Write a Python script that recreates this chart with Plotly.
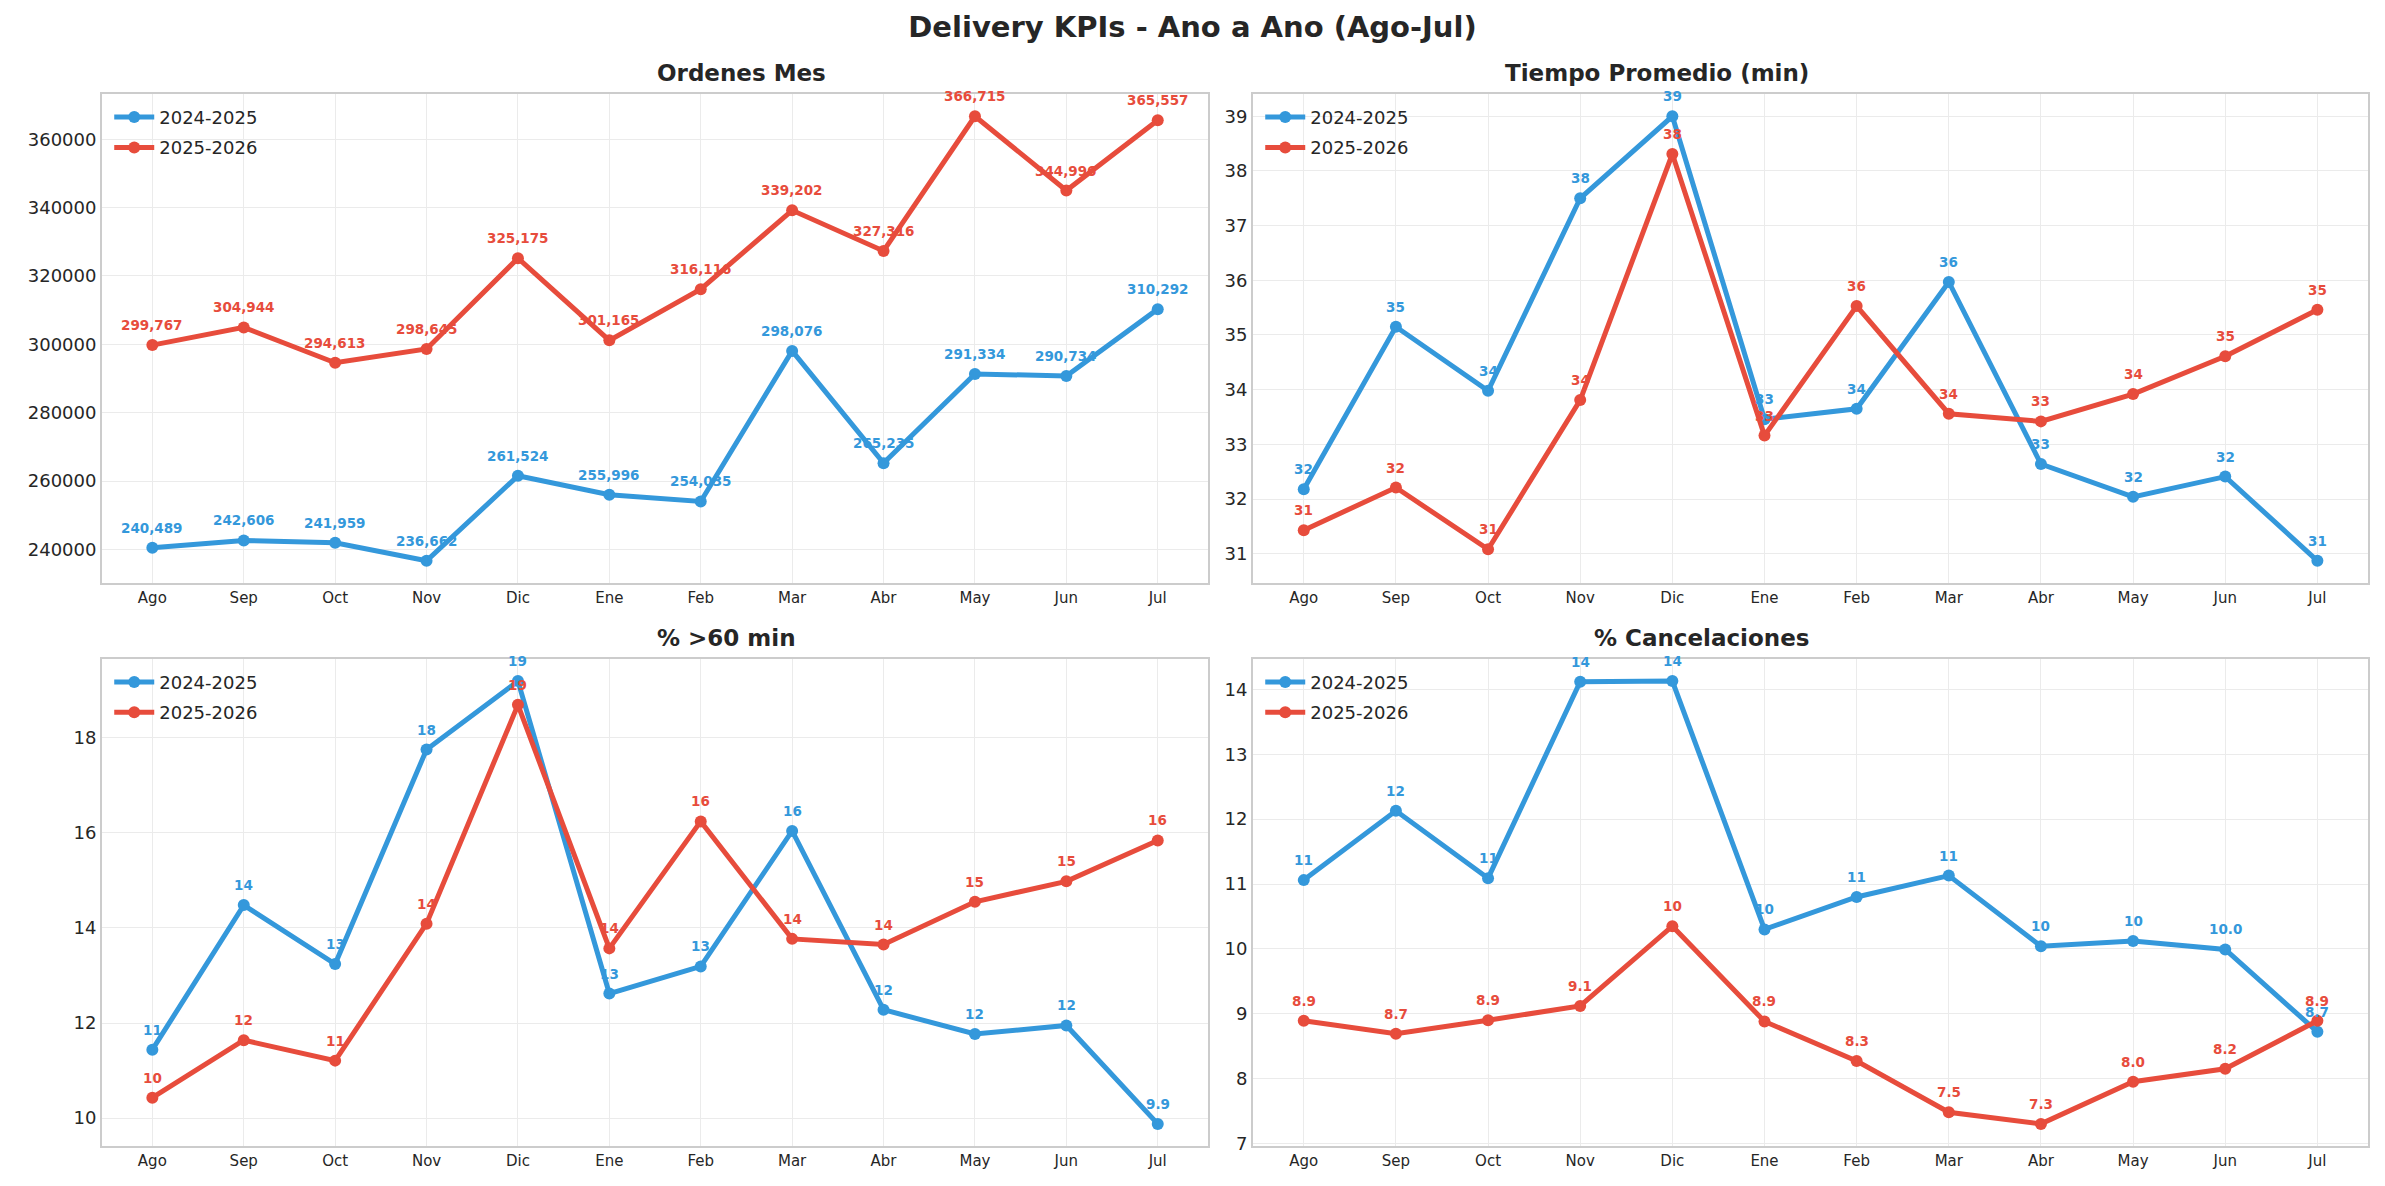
import plotly.graph_objects as go

months = ["Ago", "Sep", "Oct", "Nov", "Dic", "Ene", "Feb", "Mar", "Abr", "May", "Jun", "Jul"]
seasons = ["2024-2025", "2025-2026"]

ordenes_2425 = [240489, 242606, 241959, 236662, 261524, 255996, 254035, 298076, 265235, 291334, 290734, 310292]
ordenes_2526 = [299767, 304944, 294613, 298645, 325175, 301165, 316116, 339202, 327316, 366715, 344996, 365557]

tiempo_2425 = [32.18, 35.15, 33.98, 37.50, 39.00, 33.46, 33.65, 35.97, 32.64, 32.04, 32.41, 30.87]
tiempo_2526 = [31.43, 32.21, 31.08, 33.81, 38.31, 33.16, 35.53, 33.56, 33.42, 33.92, 34.61, 35.46]

mas60_2425 = [11.44, 14.48, 13.24, 17.75, 19.19, 12.62, 13.19, 16.04, 12.28, 11.77, 11.95, 9.88]
mas60_2526 = [10.43, 11.64, 11.21, 14.09, 18.69, 13.57, 16.24, 13.77, 13.65, 14.55, 14.98, 15.84]

cancel_2425 = [11.06, 12.13, 11.09, 14.12, 14.13, 10.30, 10.80, 11.13, 10.04, 10.12, 9.99, 8.72]
cancel_2526 = [8.89, 8.69, 8.90, 9.12, 10.35, 8.88, 8.27, 7.48, 7.30, 7.95, 8.15, 8.89]

colors = ["#3498db", "#e74c3c"]
font = "DejaVu Sans"
text_color = "#262626"

panels = [
    ("Ordenes Mes", ordenes_2425, ordenes_2526, 20000, "comma"),
    ("Tiempo Promedio (min)", tiempo_2425, tiempo_2526, 1, "num"),
    ("% >60 min", mas60_2425, mas60_2526, 2, "num"),
    ("% Cancelaciones", cancel_2425, cancel_2526, 1, "num"),
]

# paper positions of the four plot areas
x_domains = [[0.0428, 0.5065], [0.5254, 0.9929]]
y_domains = [[0.5084, 0.9207], [0.0337, 0.4444]]


def fmt_label(v, kind):
    if kind == "comma":
        return f"{v:,.0f}"
    return f"{v:.0f}" if v >= 10 else f"{v:.1f}"


fig = go.Figure()
annotations = []
layout = {}

for i, (title, a, b, dtick, kind) in enumerate(panels):
    n = i + 1
    row, col = divmod(i, 2)
    xd = x_domains[col]
    yd = y_domains[row]
    xname = "x" if n == 1 else f"x{n}"
    yname = "y" if n == 1 else f"y{n}"
    lname = "legend" if n == 1 else f"legend{n}"

    for vals, season, color in zip([a, b], seasons, colors):
        fig.add_trace(go.Scatter(
            x=months, y=vals, name=season,
            mode="lines+markers",
            line=dict(color=color, width=5),
            marker=dict(color=color, size=12),
            xaxis=xname, yaxis=yname, legend=lname,
            legendgroup=f"{lname}-{season}",
        ))
        for m, v in zip(months, vals):
            annotations.append(dict(
                x=m, y=v, xref=xname, yref=yname, yshift=20,
                text=fmt_label(v, kind), showarrow=False,
                font=dict(family=font, size=13.5, color=color, weight="bold"),
            ))

    lo = min(min(a), min(b))
    hi = max(max(a), max(b))
    pad = (hi - lo) * 0.05

    layout["xaxis" if n == 1 else f"xaxis{n}"] = dict(
        domain=xd, anchor=yname, type="category", range=[-0.55, 11.55],
        showgrid=True, gridcolor="#ebebeb", gridwidth=1,
        showline=True, mirror=True, linecolor="#cccccc", linewidth=2,
        ticks="", tickfont=dict(family=font, size=15, color=text_color),
        zeroline=False, automargin=False,
    )
    layout["yaxis" if n == 1 else f"yaxis{n}"] = dict(
        domain=yd, anchor=xname, range=[lo - pad, hi + pad], dtick=dtick,
        showgrid=True, gridcolor="#ebebeb", gridwidth=1,
        showline=True, mirror=True, linecolor="#cccccc", linewidth=2,
        ticks="", tickfont=dict(family=font, size=18, color=text_color),
        tickformat="d", zeroline=False, automargin=False,
    )
    layout[lname] = dict(
        x=xd[0] + 0.003, y=yd[1] - 0.004, xanchor="left", yanchor="top",
        xref="paper", yref="paper", bgcolor="rgba(0,0,0,0)",
        font=dict(family=font, size=18, color=text_color),
        itemwidth=40, tracegroupgap=4, traceorder="grouped",
    )
    annotations.append(dict(
        x=(xd[0] + xd[1]) / 2, y=yd[1], xref="paper", yref="paper",
        yanchor="bottom", yshift=6, showarrow=False, text=title,
        font=dict(family=font, size=23, color=text_color, weight="bold"),
    ))

fig.update_layout(
    **layout,
    annotations=annotations,
    title=dict(
        text="Delivery KPIs - Ano a Ano (Ago-Jul)",
        x=0.5, xanchor="center", y=0.977, yanchor="middle",
        font=dict(family=font, size=29, color=text_color, weight="bold"),
        automargin=False,
    ),
    width=2385, height=1186,
    margin=dict(l=0, r=0, t=0, b=0, pad=0),
    paper_bgcolor="white", plot_bgcolor="white",
    font=dict(family=font, color=text_color),
)

# drop the browser's default page margin so the figure sits at the corner
fig.write_html(
    "out.html",
    config={"displayModeBar": False},
    post_script="document.body.style.margin='0';",
)
